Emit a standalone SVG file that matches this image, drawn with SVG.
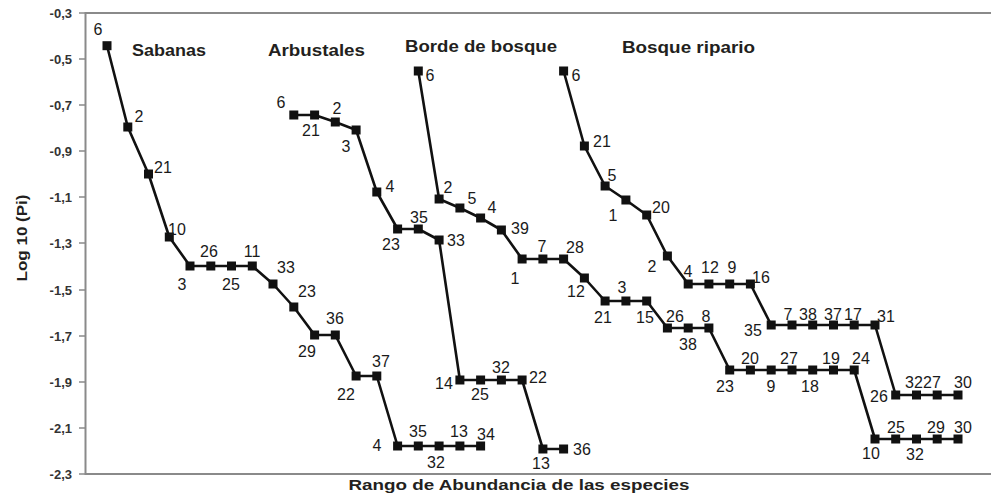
<svg xmlns="http://www.w3.org/2000/svg" width="991" height="495" viewBox="0 0 991 495">
<style>
.frame{fill:none;stroke:#8a8a8a;stroke-width:2}
.tick{stroke:#8a8a8a;stroke-width:1.5}
.tl{font-family:"Liberation Sans",Arial,sans-serif;font-weight:bold;font-size:13px;fill:#333;text-anchor:end}
.ax{font-family:"Liberation Sans",Arial,sans-serif;font-weight:bold;font-size:15px;fill:#231f20;text-anchor:middle}
.ttl{font-family:"Liberation Sans",Arial,sans-serif;font-weight:bold;font-size:17px;fill:#231f20}
.lb{font-family:"Liberation Sans",Arial,sans-serif;font-size:16px;fill:#1a1a1a;text-anchor:middle}
.ser{fill:none;stroke:#111;stroke-width:2.6;stroke-linejoin:round;marker-start:url(#sq);marker-mid:url(#sq);marker-end:url(#sq)}
</style>
<defs>
<marker id="sq" markerUnits="userSpaceOnUse" markerWidth="10" markerHeight="10" refX="5" refY="5" orient="0" viewBox="0 0 10 10">
<rect x="0.5" y="0.5" width="9" height="9" fill="#111"/>
</marker>
</defs>
<rect width="991" height="495" fill="#fff"/>
<g id="axes">
<path class="frame" d="M991,13 H85.5 V474 H991"/>
<g class="tick">
<line x1="79" y1="13" x2="85" y2="13"/><line x1="79" y1="59" x2="85" y2="59"/><line x1="79" y1="105" x2="85" y2="105"/><line x1="79" y1="151" x2="85" y2="151"/><line x1="79" y1="197" x2="85" y2="197"/><line x1="79" y1="243" x2="85" y2="243"/><line x1="79" y1="290" x2="85" y2="290"/><line x1="79" y1="336" x2="85" y2="336"/><line x1="79" y1="382" x2="85" y2="382"/><line x1="79" y1="428" x2="85" y2="428"/><line x1="79" y1="474" x2="85" y2="474"/>
</g>
<text class="tl" x="72" y="18">-0,3</text>
<text class="tl" x="72" y="64">-0,5</text>
<text class="tl" x="72" y="110">-0,7</text>
<text class="tl" x="72" y="156">-0,9</text>
<text class="tl" x="72" y="202">-1,1</text>
<text class="tl" x="72" y="248">-1,3</text>
<text class="tl" x="72" y="295">-1,5</text>
<text class="tl" x="72" y="341">-1,7</text>
<text class="tl" x="72" y="387">-1,9</text>
<text class="tl" x="72" y="433">-2,1</text>
<text class="tl" x="72" y="479">-2,3</text>
<text class="ax" x="519" y="490" textLength="341" lengthAdjust="spacingAndGlyphs">Rango de Abundancia de las especies</text>
<text class="ax" transform="translate(27,238) rotate(-90)" textLength="87" lengthAdjust="spacingAndGlyphs">Log 10 (Pi)</text>
</g>
<g id="connectors">
<polyline class="ser" points="107,45.7 127.8,127 148.5,174 169.3,237 190,266 210.8,266 231.5,266 252.3,266 273,284 293.8,307 314.6,335 335.3,335 356.1,376 376.8,376 397.6,446 418.3,446 439.1,446 459.9,446 480.6,446"/>
<polyline class="ser" points="293.8,115 314.6,115 335.3,122 356.1,130 376.8,192 397.6,229 418.3,229 439.1,240 459.9,380 480.6,380 501.4,380 522.1,380 542.9,449 563.6,449"/>
<polyline class="ser" points="418.3,71 439.1,199 459.9,208 480.6,218 501.4,230 522.1,259 542.9,259 563.6,259 584.4,278 605.1,301 625.9,301 646.7,301 667.4,328 688.2,328 708.9,328 729.7,370 750.4,370 771.2,370 792,370 812.7,370 833.5,370 854.2,370 875,439 895.7,439 916.5,439 937.2,439 958,439"/>
<polyline class="ser" points="563.6,71 584.4,146 605.1,186 625.9,200 646.7,215 667.4,256 688.2,284 708.9,284 729.7,284 750.4,284 771.2,325 792,325 812.7,325 833.5,325 854.2,325 875,325 895.7,395 916.5,395 937.2,395 958,395"/>
</g>
<g id="sabanas">
<text class="ttl" x="132" y="56" textLength="74" lengthAdjust="spacingAndGlyphs">Sabanas</text>
<g class="lb">
<text x="98" y="35">6</text><text x="139" y="122">2</text><text x="163" y="173">21</text><text x="177" y="235">10</text>
<text x="182" y="290">3</text><text x="209" y="257">26</text><text x="231" y="290">25</text><text x="252" y="257">11</text>
<text x="286" y="273">33</text><text x="307" y="297">23</text><text x="307" y="357">29</text><text x="335" y="324">36</text>
<text x="346" y="400">22</text><text x="381" y="367">37</text><text x="377" y="451">4</text><text x="418" y="437">35</text>
<text x="436" y="468">32</text><text x="459" y="437">13</text><text x="486" y="440">34</text>
</g>
</g>
<g id="arbustales">
<text class="ttl" x="268" y="56" textLength="97" lengthAdjust="spacingAndGlyphs">Arbustales</text>
<g class="lb">
<text x="281" y="108">6</text><text x="311" y="136">21</text><text x="337" y="114">2</text><text x="346" y="152">3</text>
<text x="390" y="192">4</text><text x="391" y="250">23</text><text x="419" y="223">35</text><text x="456" y="246">33</text>
<text x="444" y="389">14</text><text x="480" y="400">25</text><text x="501" y="373">32</text><text x="538" y="383">22</text>
<text x="541" y="469">13</text><text x="582" y="455">36</text>
</g>
</g>
<g id="borde-de-bosque">
<text class="ttl" x="405" y="52" textLength="152" lengthAdjust="spacingAndGlyphs">Borde de bosque</text>
<g class="lb">
<text x="430" y="81">6</text><text x="448" y="193">2</text><text x="472" y="204">5</text><text x="492" y="213">4</text>
<text x="520" y="234">39</text><text x="515" y="284">1</text><text x="542" y="252">7</text><text x="575" y="253">28</text>
<text x="576" y="297">12</text><text x="603" y="323">21</text><text x="622" y="293">3</text><text x="645" y="323">15</text>
<text x="675" y="322">26</text><text x="688" y="350">38</text><text x="706" y="322">8</text><text x="725" y="392">23</text>
<text x="750" y="364">20</text><text x="771" y="392">9</text><text x="789" y="364">27</text><text x="810" y="392">18</text>
<text x="831" y="364">19</text><text x="861" y="364">24</text><text x="871" y="459">10</text><text x="896" y="433">25</text>
<text x="915" y="460">32</text><text x="936" y="433">29</text><text x="963" y="433">30</text>
</g>
</g>
<g id="bosque-ripario">
<text class="ttl" x="622" y="53" textLength="133" lengthAdjust="spacingAndGlyphs">Bosque ripario</text>
<g class="lb">
<text x="576" y="81">6</text><text x="602" y="147">21</text><text x="612" y="181">5</text><text x="613" y="221">1</text>
<text x="661" y="213">20</text><text x="652" y="272">2</text><text x="688" y="277">4</text><text x="710" y="273">12</text>
<text x="732" y="273">9</text><text x="761" y="283">16</text><text x="753" y="336">35</text><text x="788" y="320">7</text>
<text x="808" y="320">38</text><text x="833" y="320">37</text><text x="853" y="320">17</text><text x="886" y="322">31</text>
<text x="879" y="402">26</text><text x="914" y="388">32</text><text x="932" y="388">27</text><text x="963" y="388">30</text>
</g>
</g>
</svg>
